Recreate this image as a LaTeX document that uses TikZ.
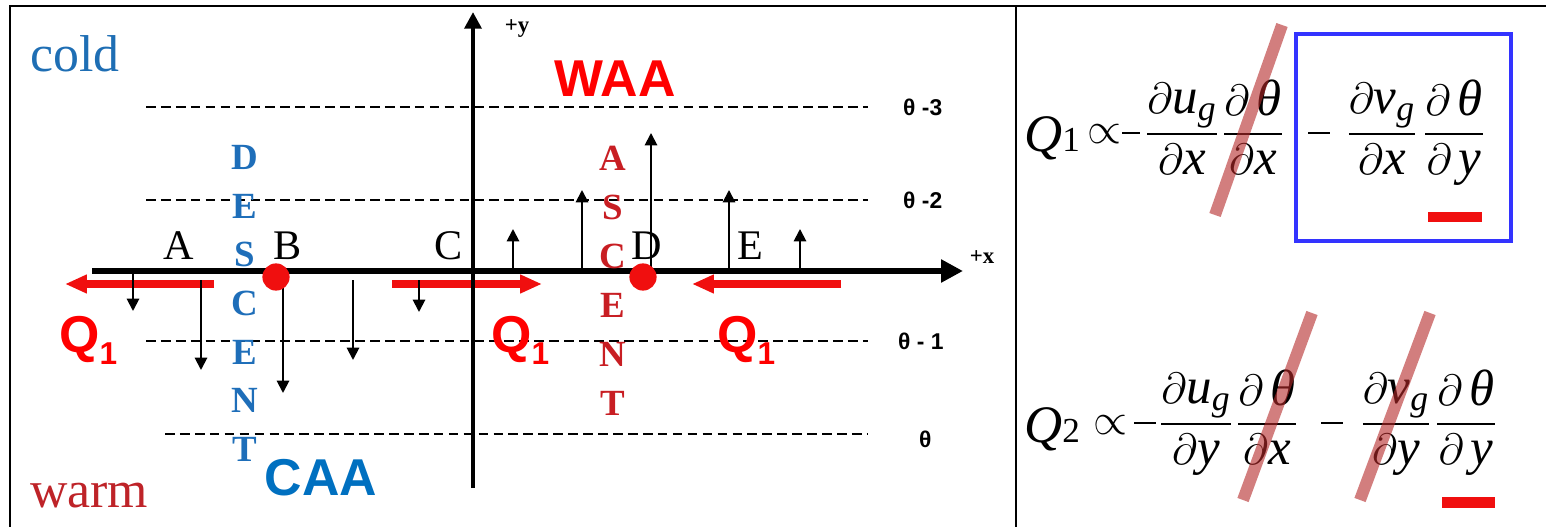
\documentclass[tikz,border=0pt]{standalone}
\usepackage{amsmath}
\usepackage{fontspec}
\setmainfont{Liberation Serif}
\newfontfamily\arialfont{Liberation Sans}
\usepackage{tikz}
\usetikzlibrary{arrows.meta}
\usepackage{xcolor}
\definecolor{coldblue}{RGB}{30,110,180}
\definecolor{warmred}{RGB}{190,35,40}
\definecolor{qred}{RGB}{255,0,0}
\definecolor{flowred}{RGB}{240,15,15}
\definecolor{caablue}{RGB}{0,112,192}
\definecolor{descblue}{RGB}{30,110,185}
\definecolor{ascred}{RGB}{200,30,35}
\definecolor{boxblue}{RGB}{51,51,255}
\definecolor{slashred}{RGB}{180,40,40}
\newcommand{\qsub}[1]{Q\raisebox{-7pt}{\fontsize{18}{18}\selectfont #1}}
\newcommand{\iv}[1]{\text{\itshape #1}}
\newcommand{\eqq}[1]{{\itshape Q}{\fontsize{20}{20}\selectfont #1}}

\begin{document}
\begin{tikzpicture}[
    x=0.02cm, y=-0.02cm,
    frame/.style={line width=1.3pt},
    xaxis/.style={line width=3.4pt, -{Triangle[length=12.5pt,width=12.5pt]}},
    yaxis/.style={line width=2.8pt, -{Triangle[length=9.5pt,width=9.5pt]}},
    level/.style={line width=0.9pt, dash pattern=on 5.5pt off 3pt},
    wind/.style={line width=1.1pt, -{Triangle[length=7pt,width=7pt]}},
    ageo/.style={draw=flowred, line width=4.3pt, -{Triangle[length=12.5pt,width=10pt]}},
    reddot/.style={circle, fill=flowred, inner sep=0pt, minimum size=15.5pt},
    ptlab/.style={font=\fontsize{24}{24}\selectfont, anchor=base},
    desc/.style={text=descblue, font=\bfseries\fontsize{21}{21}\selectfont},
    asc/.style={text=ascred, font=\bfseries\fontsize{21}{21}\selectfont},
    thlab/.style={font=\arialfont\bfseries\fontsize{13}{13}\selectfont, anchor=west},
    axlab/.style={font=\bfseries\fontsize{13}{13}\selectfont, anchor=base},
    qlab/.style={text=qred, font=\arialfont\bfseries\fontsize{29.5}{30}\selectfont, anchor=base west},
    advlab/.style={font=\arialfont\bfseries\fontsize{29.5}{30}\selectfont, anchor=base},
    airlab/.style={font=\fontsize{29.5}{30}\selectfont, anchor=base west},
    frac/.style={font=\fontsize{29}{32}\selectfont, anchor=base, inner sep=0pt},
    eqname/.style={font=\fontsize{30}{32}\selectfont, anchor=base west, inner sep=0pt},
    eqrel/.style={font=\fontsize{26}{30}\selectfont, anchor=base, inner sep=0pt},
    eqbar/.style={inner sep=0pt},
    slash/.style={draw=slashred, draw opacity=0.6, line width=6.8pt},
    termbox/.style={draw=boxblue, line width=2.3pt}
  ]
  \useasboundingbox (0,0) rectangle (1546,527);

  % Frame
  \draw[frame] (10,527) -- (10,6) -- (1546,6);
  \draw[frame] (1016,6) -- (1016,527);

  % Isentropes
  \draw[level] (146,107) -- (868,107);
  \draw[level] (146,200) -- (868,200);
  \draw[level] (146,341) -- (868,341);
  \draw[level] (165,434) -- (868,434);
  \node[thlab] (th3) at (897,107) {θ -3};
  \node[thlab] (th2) at (897,200) {θ -2};
  \node[thlab] (th1) at (892,341) {θ - 1};
  \node[thlab] (th0) at (913,439) {θ};

  % Ageostrophic wind
  \draw[ageo] (214,284) -- (65,284);
  \draw[ageo] (392,284) -- (542,284);
  \draw[ageo] (841,284) -- (692,284);

  % Axes
  \draw[xaxis] (92,271) -- (963,271);
  \draw[yaxis] (473,488) -- (473,12);
  \node[axlab] (ylab) at (517,33) {+y};
  \node[axlab] (xlab) at (982,263) {+x};

  % Vertical motion
  \draw[wind] (133,273) -- (133,311);
  \draw[wind] (201,280) -- (201,370);
  \draw[wind] (283,280) -- (283,393);
  \draw[wind] (353,280) -- (353,360);
  \draw[wind] (419,280) -- (419,312);
  \draw[wind] (513,271) -- (513,229);
  \draw[wind] (582,271) -- (582,190);
  \draw[wind] (651,277) -- (651,133);
  \draw[wind] (729,271) -- (729,190);
  \draw[wind] (800,271) -- (800,229);

  % Points
  \node[reddot] (dotB) at (276,277) {};
  \node[reddot] (dotD) at (643,277) {};
  \node[ptlab] (ptA) at (179,259) {A};
  \node[ptlab] (ptB) at (288,259) {B};
  \node[ptlab] (ptC) at (449,259) {C};
  \node[ptlab] (ptD) at (647,259) {D};
  \node[ptlab] (ptE) at (750,259) {E};

  % Descent / ascent columns
  \node[desc] (d1) at (245,157) {D};
  \node[desc] (d2) at (245,206) {E};
  \node[desc] (d3) at (245,254) {S};
  \node[desc] (d4) at (245,303) {C};
  \node[desc] (d5) at (245,352) {E};
  \node[desc] (d6) at (245,400) {N};
  \node[desc] (d7) at (245,449) {T};
  \node[asc] (a1) at (613,158) {A};
  \node[asc] (a2) at (613,207) {S};
  \node[asc] (a3) at (613,256) {C};
  \node[asc] (a4) at (613,305) {E};
  \node[asc] (a5) at (613,354) {N};
  \node[asc] (a6) at (613,403) {T};

  % Labels
  \node[airlab, text=coldblue] (cold) at (24,72) {cold};
  \node[airlab, text=warmred] (warm) at (24,507) {warm};
  \node[advlab, text=qred] (waa) at (615,97) {WAA};
  \node[advlab, text=caablue] (caa) at (321,495) {CAA};
  \node[qlab] (q1a) at (53,352) {\qsub{1}};
  \node[qlab] (q1b) at (485,352) {\qsub{1}};
  \node[qlab] (q1c) at (711,352) {\qsub{1}};

  % Q1 equation
  \node[eqname] (e1q) at (1024,152) {\eqq{1}};
  \node[eqrel] (e1p) at (1104,144) {$\propto$};
  \node[eqbar] (e1n) at (1131,133) {\rule{10pt}{1.1pt}};
  \node[frac] (e1a) at (1182,145) {$\displaystyle\frac{\partial \iv{u}_{\iv{g}}}{\partial \iv{x}}$};
  \node[frac] (e1b) at (1253,145) {$\displaystyle\frac{\partial\,\iv{θ}}{\partial \iv{x}}$};
  \node[eqbar] (e1m) at (1319,133) {\rule{12.5pt}{1.1pt}};
  \node[frac] (e1c) at (1382,145) {$\displaystyle\frac{\partial \iv{v}_{\iv{g}}}{\partial \iv{x}}$};
  \node[frac] (e1d) at (1454,145) {$\displaystyle\frac{\partial\,\iv{θ}}{\partial\,\iv{y}}$};
  \draw[termbox] (1296,34) rectangle (1511,241);
  \fill[flowred] (1428,212) rectangle (1482,222);
  \draw[slash] (1282,25) -- (1215,215);

  % Q2 equation
  \node[eqname] (e2q) at (1024,442) {\eqq{2}};
  \node[eqrel] (e2p) at (1110,434) {$\propto$};
  \node[eqbar] (e2n) at (1145,423) {\rule{12pt}{1.1pt}};
  \node[frac] (e2a) at (1196,435) {$\displaystyle\frac{\partial \iv{u}_{\iv{g}}}{\partial \iv{y}}$};
  \node[frac] (e2b) at (1267,435) {$\displaystyle\frac{\partial\,\iv{θ}}{\partial \iv{x}}$};
  \node[eqbar] (e2m) at (1332,423) {\rule{12.5pt}{1.1pt}};
  \node[frac] (e2c) at (1396,435) {$\displaystyle\frac{\partial \iv{v}_{\iv{g}}}{\partial \iv{y}}$};
  \node[frac] (e2d) at (1466,435) {$\displaystyle\frac{\partial\,\iv{θ}}{\partial\,\iv{y}}$};
  \fill[flowred] (1442,497) rectangle (1495,508);
  \draw[slash] (1312,313) -- (1243,500);
  \draw[slash] (1430,313) -- (1360,500);
\end{tikzpicture}
\end{document}
